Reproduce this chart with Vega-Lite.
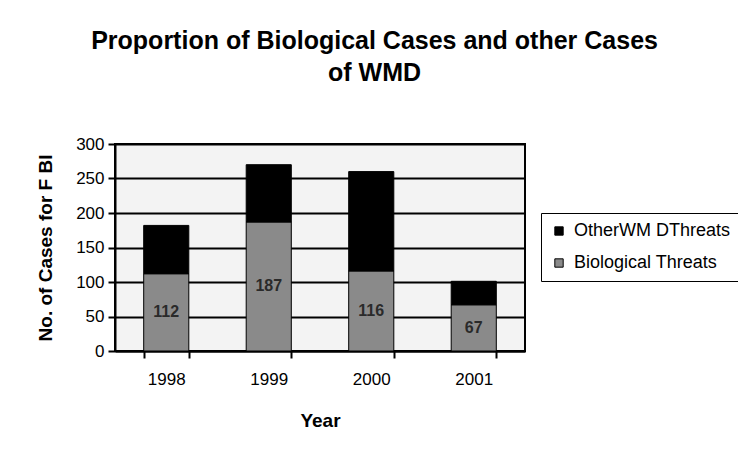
{
  "$schema": "https://vega.github.io/schema/vega-lite/v6.json",
  "width": 410,
  "height": 207,
  "padding": {"top": 29, "left": 36, "right": 0, "bottom": 0},
  "background": "white",
  "title": {
    "text": ["Proportion of Biological Cases and other Cases", "of WMD"],
    "font": "Liberation Sans",
    "fontSize": 25,
    "fontWeight": "bold",
    "lineHeight": 32,
    "color": "black",
    "anchor": "middle",
    "frame": "bounds",
    "dx": -14,
    "offset": 49
  },
  "data": {
    "values": [
      {"year": "1998", "series": "Biological Threats", "value": 112, "ord": 1},
      {"year": "1998", "series": "OtherWM DThreats", "value": 70, "ord": 2},
      {"year": "1999", "series": "Biological Threats", "value": 187, "ord": 1},
      {"year": "1999", "series": "OtherWM DThreats", "value": 83, "ord": 2},
      {"year": "2000", "series": "Biological Threats", "value": 116, "ord": 1},
      {"year": "2000", "series": "OtherWM DThreats", "value": 144, "ord": 2},
      {"year": "2001", "series": "Biological Threats", "value": 67, "ord": 1},
      {"year": "2001", "series": "OtherWM DThreats", "value": 34, "ord": 2}
    ]
  },
  "encoding": {
    "x": {
      "field": "year",
      "type": "nominal",
      "title": "Year",
      "scale": {"paddingInner": 0.56, "paddingOuter": 0.28},
      "axis": {
        "labelAngle": 0,
        "tickBand": "extent",
        "tickSize": 7,
        "tickWidth": 2,
        "tickColor": "black",
        "domainColor": "black",
        "domainWidth": 2,
        "labelPadding": 13,
        "labelFontSize": 17,
        "labelFont": "Liberation Sans",
        "labelColor": "black",
        "titleFont": "Liberation Sans",
        "titleFontSize": 19,
        "titleFontWeight": "bold",
        "titleColor": "black",
        "titlePadding": 24
      }
    }
  },
  "layer": [
    {
      "mark": {"type": "bar", "stroke": "black", "strokeWidth": 1},
      "encoding": {
        "y": {
          "field": "value",
          "type": "quantitative",
          "stack": "zero",
          "title": "No. of Cases for F BI",
          "scale": {"domain": [0, 300], "nice": false},
          "axis": {
            "values": [0, 50, 100, 150, 200, 250, 300],
            "grid": true,
            "gridColor": "black",
            "gridWidth": 2,
            "gridOpacity": 1,
            "tickSize": 7,
            "tickWidth": 2,
            "tickColor": "black",
            "domainColor": "black",
            "domainWidth": 2,
            "labelPadding": 4,
            "labelFontSize": 17,
            "labelFont": "Liberation Sans",
            "labelColor": "black",
            "titleFont": "Liberation Sans",
            "titleFontSize": 19,
            "titleFontWeight": "bold",
            "titleColor": "black",
            "titlePadding": 20
          }
        },
        "order": {"field": "ord", "type": "quantitative"},
        "color": {
          "field": "series",
          "type": "nominal",
          "title": null,
          "sort": ["OtherWM DThreats", "Biological Threats"],
          "scale": {"domain": ["OtherWM DThreats", "Biological Threats"], "range": ["#000000", "#8a8a8a"]},
          "legend": {
            "orient": "none",
            "legendX": 426,
            "legendY": 69,
            "symbolType": "square",
            "symbolSize": 70,
            "symbolStrokeColor": "black",
            "symbolStrokeWidth": 1,
            "labelFont": "Liberation Sans",
            "labelFontSize": 18,
            "labelColor": "black",
            "labelOffset": 6,
            "rowPadding": 14,
            "padding": 9,
            "strokeColor": "black",
            "fillColor": "white"
          }
        }
      }
    },
    {
      "transform": [{"filter": "datum.series === 'Biological Threats'"}],
      "mark": {"type": "text", "font": "Liberation Sans", "fontSize": 16, "fontWeight": "bold", "color": "#2a2a2a"},
      "encoding": {
        "y": {"field": "value", "type": "quantitative", "stack": null, "scale": {"domain": [0, 600], "nice": false}, "axis": null},
        "text": {"field": "value", "type": "quantitative"}
      }
    }
  ],
  "resolve": {"scale": {"y": "independent"}, "axis": {"y": "independent"}},
  "config": {
    "view": {"fill": "#f3f3f3", "stroke": "black", "strokeWidth": 2}
  }
}
